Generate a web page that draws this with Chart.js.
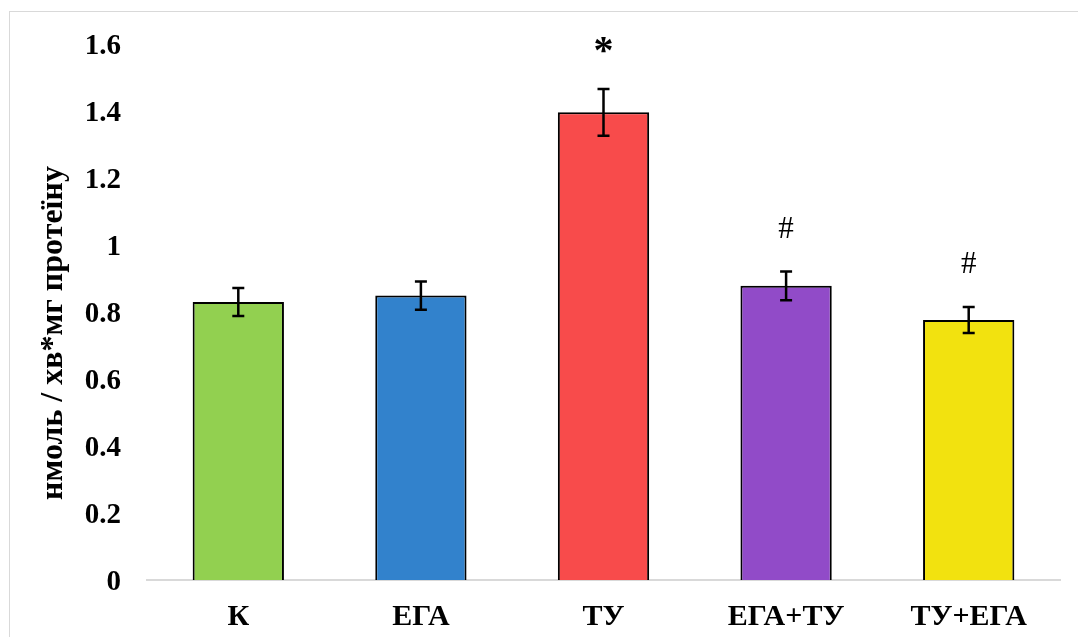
<!DOCTYPE html>
<html lang="uk">
<head>
<meta charset="utf-8">
<title>нмоль / хв*мг протеїну</title>
<script src="https://cdn.jsdelivr.net/npm/chart.js@4.4.1/dist/chart.umd.min.js"></script>
<style>
  html, body { margin: 0; padding: 0; background: #fff; }
  .chart-wrap { position: relative; width: 1078px; height: 637px; overflow: hidden; }
  .chart-frame {
    position: absolute; left: 9px; top: 11px; right: 0; bottom: 0;
    border-left: 1px solid #d9d9d9; border-top: 1px solid #d9d9d9;
    pointer-events: none;
  }
  canvas { display: block; }
</style>
</head>
<body>
<div class="chart-wrap">
  <canvas id="chart" width="1078" height="637"></canvas>
  <div class="chart-frame"></div>
</div>
<script>
// дані з рисунка
const categories = ['К', 'ЕГА', 'ТУ', 'ЕГА+ТУ', 'ТУ+ЕГА'];
const values = [0.830, 0.849, 1.396, 0.878, 0.776];
const errors = [0.042, 0.042, 0.070, 0.043, 0.039];
const marks = ['', '', '*', '#', '#'];
const barColors = ['#92d050', '#3282cc', '#f84b4b', '#914bc8', '#f2e20f'];
const yTicks = [0, 0.2, 0.4, 0.6, 0.8, 1, 1.2, 1.4, 1.6];
const yTitle = 'нмоль / хв*мг протеїну';

const SERIF = '"Liberation Serif", "Times New Roman", serif';

// планки похибок + позначки над ними
const errorBarsPlugin = {
  id: 'errorBars',
  afterDatasetsDraw(chart) {
    const ctx = chart.ctx;
    const yScale = chart.scales.y;
    const meta = chart.getDatasetMeta(0);
    ctx.save();
    ctx.strokeStyle = '#000';
    ctx.lineWidth = 2.5;
    meta.data.forEach((bar, i) => {
      const x = bar.x;
      const top = yScale.getPixelForValue(values[i] + errors[i]);
      const bottom = yScale.getPixelForValue(values[i] - errors[i]);
      ctx.beginPath();
      ctx.moveTo(x, top);
      ctx.lineTo(x, bottom);
      ctx.moveTo(x - 6, top);
      ctx.lineTo(x + 6, top);
      ctx.moveTo(x - 6, bottom);
      ctx.lineTo(x + 6, bottom);
      ctx.stroke();

      if (marks[i]) {
        // знак над планкою, центр по чорнилу
        ctx.font = (marks[i] === '*' ? 'bold 40px ' : 'normal 31px ') + SERIF;
        ctx.fillStyle = '#000';
        ctx.textAlign = 'center';
        ctx.textBaseline = 'alphabetic';
        const m = ctx.measureText(marks[i]);
        const inkMid = (m.actualBoundingBoxAscent - m.actualBoundingBoxDescent) / 2;
        ctx.fillText(marks[i], x, top - 44 + inkMid);
      }
    });
    ctx.restore();
  }
};

// підпис осі Y
const yTitlePlugin = {
  id: 'yTitle',
  afterDraw(chart) {
    const ctx = chart.ctx;
    ctx.save();
    ctx.translate(54, 333);
    ctx.rotate(-Math.PI / 2);
    ctx.font = 'bold 32px ' + SERIF;
    ctx.fillStyle = '#000';
    ctx.textAlign = 'center';
    ctx.textBaseline = 'middle';
    ctx.fillText(yTitle, 0, 0);
    ctx.restore();
  }
};

new Chart(document.getElementById('chart'), {
  type: 'bar',
  data: {
    labels: categories,
    datasets: [{
      data: values,
      backgroundColor: barColors,
      borderColor: '#000',
      borderWidth: 2,
      barPercentage: 0.5,
      categoryPercentage: 1
    }]
  },
  options: {
    responsive: false,
    animation: false,
    layout: { padding: { top: 44, right: 18, bottom: 0, left: 0 } },
    plugins: {
      legend: { display: false },
      tooltip: { enabled: false }
    },
    scales: {
      x: {
        grid: { display: false, drawTicks: false },
        border: { display: true, color: '#d9d9d9', width: 2 },
        ticks: {
          color: '#000',
          padding: 19,
          font: { family: SERIF, size: 30, weight: 'bold', lineHeight: 1.2 }
        },
        afterFit(scale) { scale.height = 57; }
      },
      y: {
        min: yTicks[0],
        max: yTicks[yTicks.length - 1],
        grid: { display: false, drawTicks: false },
        border: { display: false },
        afterBuildTicks(scale) {
          scale.ticks = yTicks.map(v => ({ value: v }));
        },
        ticks: {
          color: '#000',
          padding: 26,
          labelOffset: 3,
          font: { family: SERIF, size: 29, weight: 'bold' },
          callback: v => String(v)
        },
        afterFit(scale) { scale.width = 147; }
      }
    }
  },
  plugins: [errorBarsPlugin, yTitlePlugin]
});
</script>
</body>
</html>
